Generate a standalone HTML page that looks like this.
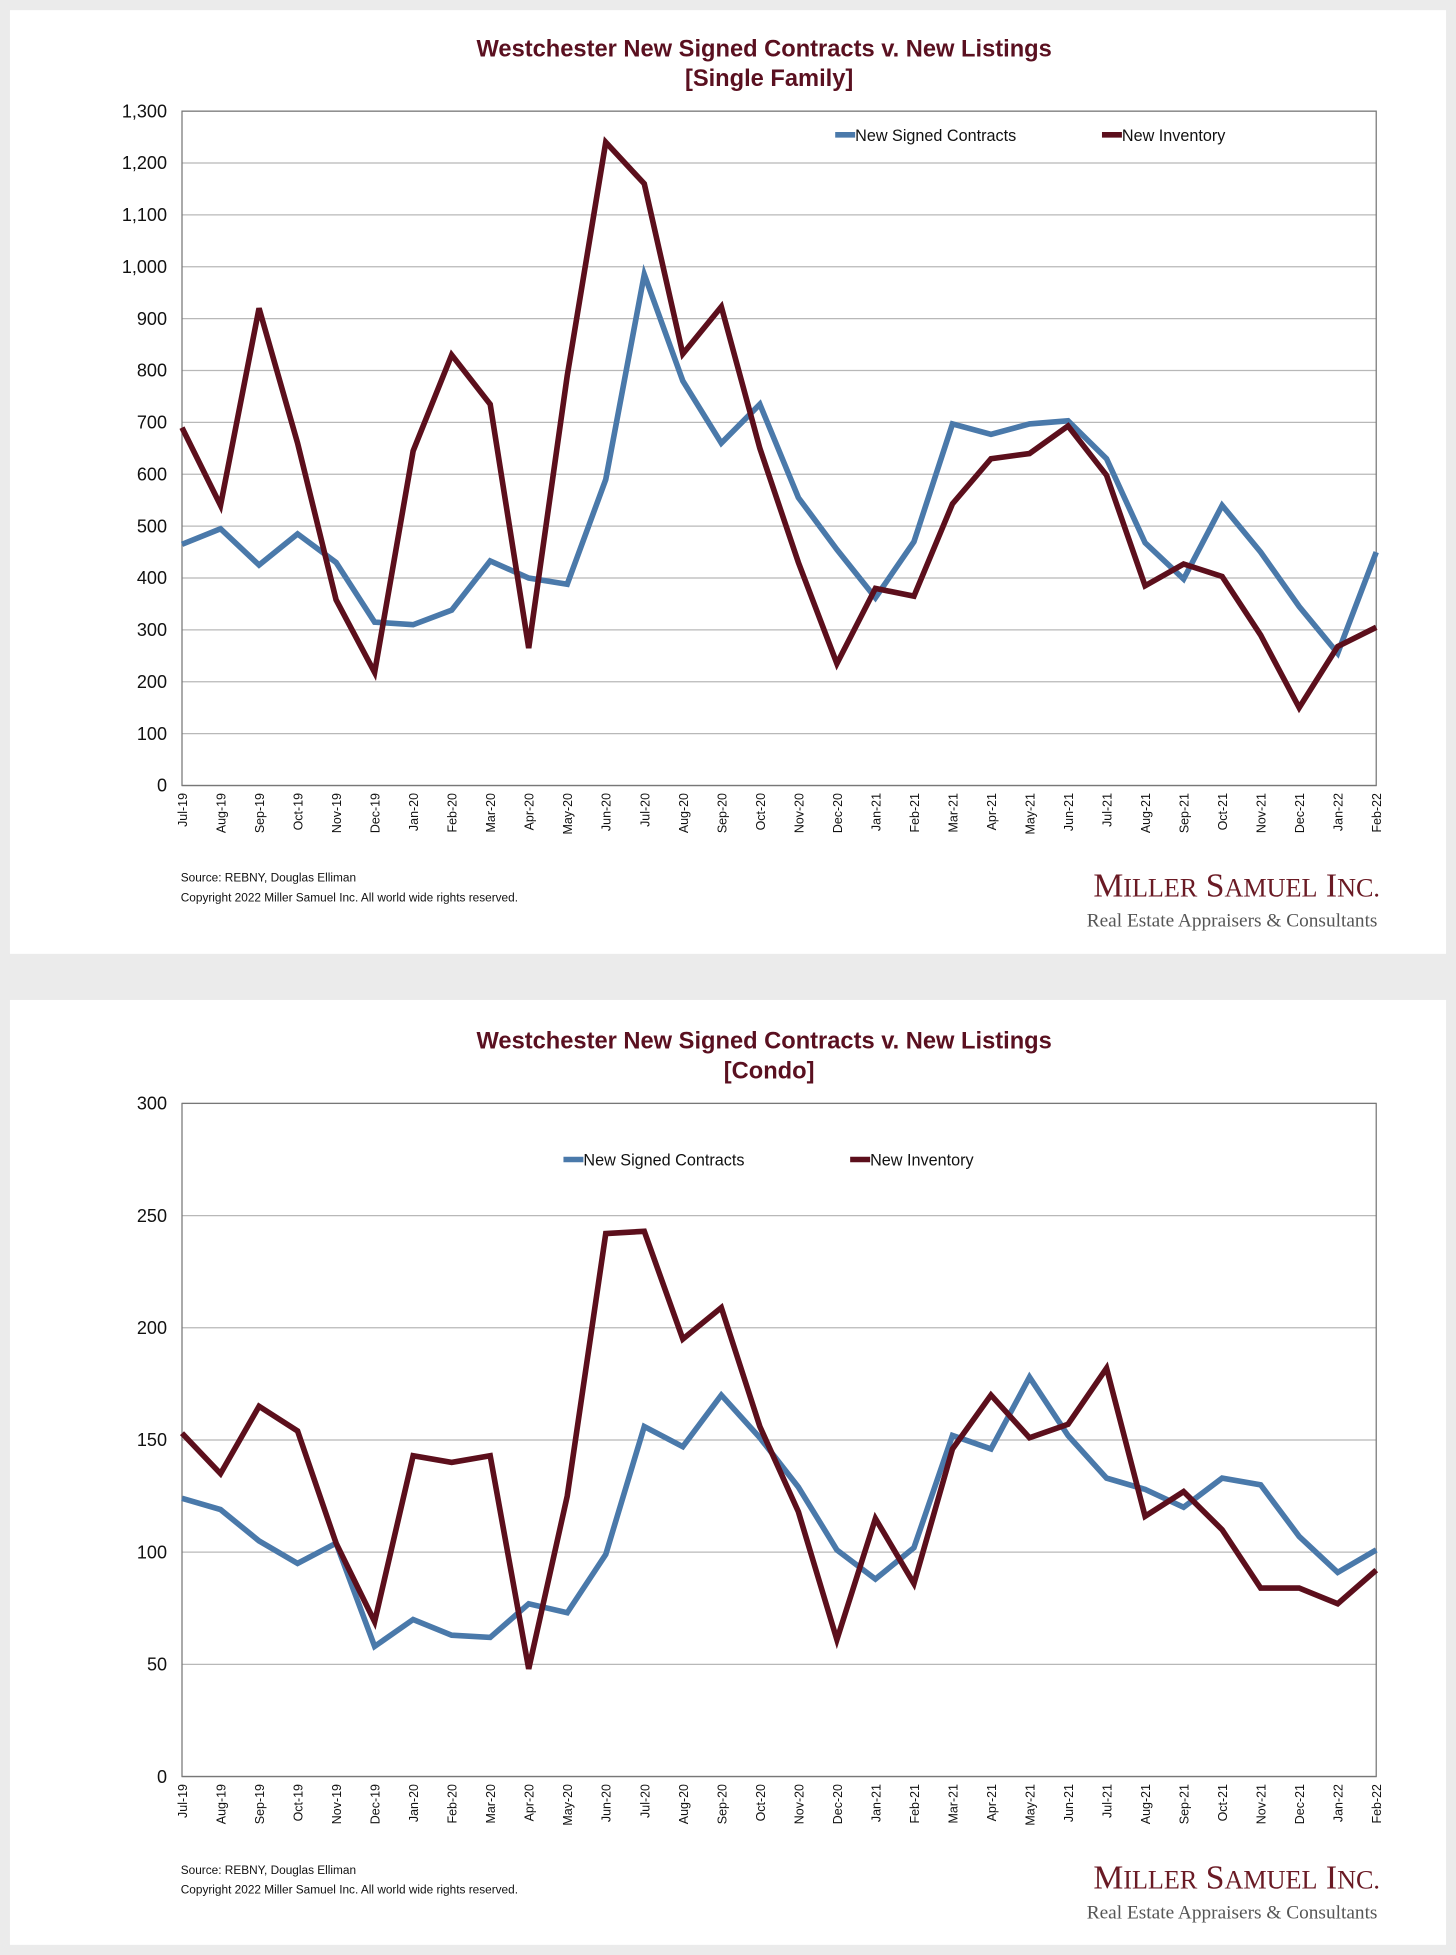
<!DOCTYPE html>
<html><head><meta charset="utf-8"><style>
html,body{margin:0;padding:0;background:#ebebeb;}
svg{display:block;font-family:"Liberation Sans",Arial,sans-serif;}
</style></head><body>
<svg id="svg" width="1456" height="1955" viewBox="0 0 1168 1568" xmlns="http://www.w3.org/2000/svg">
<rect x="0" y="0" width="1168" height="1568" fill="#ebebeb"/>
<rect x="8" y="8" width="1152" height="757" fill="#fff"/>
<rect x="8" y="802" width="1152" height="758" fill="#fff"/>
<g id="c1"></g><g id="c2"></g>
</svg>
<script>
const months = ["Jul-19","Aug-19","Sep-19","Oct-19","Nov-19","Dec-19","Jan-20","Feb-20","Mar-20","Apr-20","May-20","Jun-20","Jul-20","Aug-20","Sep-20","Oct-20","Nov-20","Dec-20","Jan-21","Feb-21","Mar-21","Apr-21","May-21","Jun-21","Jul-21","Aug-21","Sep-21","Oct-21","Nov-21","Dec-21","Jan-22","Feb-22"];
const sfContracts = [465,495,425,485,430,315,310,338,433,400,388,590,985,780,660,735,555,455,362,470,697,677,697,703,630,468,398,540,450,345,255,450];
const sfInventory = [690,540,920,660,358,218,645,830,735,265,790,1240,1160,832,923,650,430,235,380,365,543,630,640,693,598,385,427,403,290,150,268,305];
const sfTicks = [0,100,200,300,400,500,600,700,800,900,1000,1100,1200,1300];
const sfTickLabels = ["0","100","200","300","400","500","600","700","800","900","1,000","1,100","1,200","1,300"];
const condoContracts = [124,119,105,95,104,58,70,63,62,77,73,99,156,147,170,151,129,101,88,102,152,146,178,152,133,128,120,133,130,107,91,101];
const condoInventory = [153,135,165,154,104,69,143,140,143,48,125,242,243,195,209,156,118,61,115,86,146,170,151,157,182,116,127,110,84,84,77,92];
const condoTicks = [0,50,100,150,200,250,300];
const condoTickLabels = ["0","50","100","150","200","250","300"];

const NS="http://www.w3.org/2000/svg";
function mk(tag,attrs,parent,text){const e=document.createElementNS(NS,tag);for(const k in attrs)e.setAttribute(k,attrs[k]);if(text!==undefined)e.textContent=text;parent.appendChild(e);return e;}

function chart(g,o){
  const L=146,R=1104,T=o.top,B=o.top+o.h;
  const x=i=>L+(R-L)*i/(months.length-1);
  const y=v=>B-(B-T)*v/o.max;
  let t=mk('text',{x:613,y:o.top-44,'text-anchor':'middle','font-size':19,'font-weight':'bold',fill:'#5a1020'},g,o.title1);
  
  t=mk('text',{x:617,y:o.top-20,'text-anchor':'middle','font-size':19,'font-weight':'bold',fill:'#5a1020'},g,o.title2);
  
  o.ticks.forEach((v,i)=>{
    const gl=mk('line',{x1:L,x2:R,y1:y(v),y2:y(v),stroke:i==0?'#777':'#b8b8b8','stroke-width':1},g);
    
    const tl=mk('text',{x:L-12,y:y(v)+5,'text-anchor':'end','font-size':14.5,fill:'#111'},g,o.labels[i]);
    
  });
  const fr=mk('rect',{x:L,y:T,width:R-L,height:B-T,fill:'none',stroke:'#777','stroke-width':1},g);
  
  months.forEach((m,i)=>{
    const xl=mk('text',{transform:`translate(${x(i)+4},${B+6}) rotate(-90)`,'text-anchor':'end','font-size':10,fill:'#111'},g,m);
    
  });
  [[o.a,'#4a79aa','contracts-line'],[o.b,'#5c0f1c','inventory-line']].forEach(([d,c,n])=>{
    const p=mk('polyline',{points:d.map((v,i)=>x(i)+','+y(v)).join(' '),fill:'none',stroke:c,'stroke-width':4.5,'stroke-linejoin':'miter'},g);
    
  });
  const ly=o.legY;
  let l=mk('line',{x1:o.leg1,x2:o.leg1+16,y1:ly,y2:ly,stroke:'#4a79aa','stroke-width':4.5},g);
  
  l=mk('text',{x:o.leg1+16,y:ly+5,'font-size':13,fill:'#111'},g,'New Signed Contracts');
  
  l=mk('line',{x1:o.leg2,x2:o.leg2+16,y1:ly,y2:ly,stroke:'#5c0f1c','stroke-width':4.5},g);
  
  l=mk('text',{x:o.leg2+16,y:ly+5,'font-size':13,fill:'#111'},g,'New Inventory');
  
  const s=o.src;
  l=mk('text',{x:145,y:s,'font-size':9.5,fill:'#111'},g,'Source: REBNY, Douglas Elliman');
  
  l=mk('text',{x:145,y:s+16,'font-size':9.5,fill:'#111'},g,'Copyright 2022 Miller Samuel Inc.  All world wide rights reserved.');
  
  l=mk('text',{x:1107,y:s+12,'text-anchor':'end','font-size':27,fill:'#6a1a24','font-family':'Liberation Serif,serif'},g,'');
  l.innerHTML='M<tspan font-size="21">ILLER</tspan> S<tspan font-size="21">AMUEL</tspan> I<tspan font-size="21">NC.</tspan>';
  
  l=mk('text',{x:1105,y:s+36,'text-anchor':'end','font-size':15.5,fill:'#555','font-family':'Liberation Serif,serif'},g,'Real Estate Appraisers & Consultants');
  
}
chart(document.getElementById('c1'),{top:89,h:541,max:1300,ticks:sfTicks,labels:sfTickLabels,a:sfContracts,b:sfInventory,title1:'Westchester New Signed Contracts v. New Listings',title2:'[Single Family]',legY:108,leg1:670,leg2:884,src:707});
chart(document.getElementById('c2'),{top:885,h:540,max:300,ticks:condoTicks,labels:condoTickLabels,a:condoContracts,b:condoInventory,title1:'Westchester New Signed Contracts v. New Listings',title2:'[Condo]',legY:930,leg1:452,leg2:682,src:1503});
</script>
</body></html>
